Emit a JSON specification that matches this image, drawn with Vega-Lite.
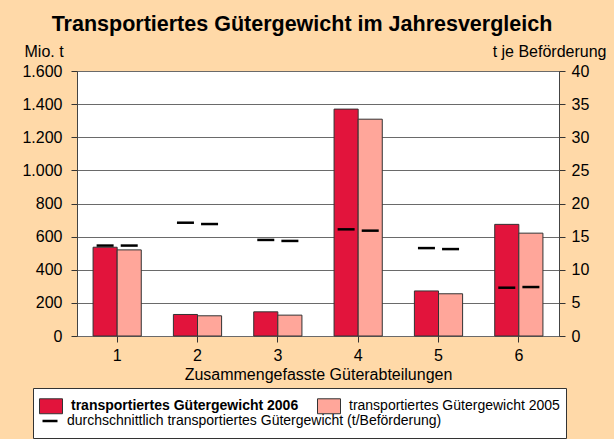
{
  "$schema": "https://vega.github.io/schema/vega-lite/v6.json",
  "width": 482,
  "height": 265,
  "autosize": {"type": "none"},
  "padding": {"left": 77, "top": 71, "right": 55, "bottom": 103},
  "background": "#FFD9A8",
  "title": {
    "text": "Transportiertes Gütergewicht im Jahresvergleich",
    "font": "Liberation Sans",
    "fontSize": 21.5,
    "fontWeight": "bold",
    "color": "#000000",
    "dx": -16,
    "offset": 8
  },
  "data": {
    "values": [
      {"gruppe": "1", "jahr": "transportiertes Gütergewicht 2006", "gewicht": 536, "avg": 13.65},
      {"gruppe": "1", "jahr": "transportiertes Gütergewicht 2005", "gewicht": 520, "avg": 13.65},
      {"gruppe": "2", "jahr": "transportiertes Gütergewicht 2006", "gewicht": 130, "avg": 17.1},
      {"gruppe": "2", "jahr": "transportiertes Gütergewicht 2005", "gewicht": 122, "avg": 16.9},
      {"gruppe": "3", "jahr": "transportiertes Gütergewicht 2006", "gewicht": 146, "avg": 14.5},
      {"gruppe": "3", "jahr": "transportiertes Gütergewicht 2005", "gewicht": 126, "avg": 14.35},
      {"gruppe": "4", "jahr": "transportiertes Gütergewicht 2006", "gewicht": 1370, "avg": 16.1},
      {"gruppe": "4", "jahr": "transportiertes Gütergewicht 2005", "gewicht": 1309, "avg": 15.9},
      {"gruppe": "5", "jahr": "transportiertes Gütergewicht 2006", "gewicht": 272, "avg": 13.27},
      {"gruppe": "5", "jahr": "transportiertes Gütergewicht 2005", "gewicht": 255, "avg": 13.12},
      {"gruppe": "6", "jahr": "transportiertes Gütergewicht 2006", "gewicht": 674, "avg": 7.29},
      {"gruppe": "6", "jahr": "transportiertes Gütergewicht 2005", "gewicht": 621, "avg": 7.39}
    ]
  },
  "encoding": {
    "x": {
      "field": "gruppe",
      "type": "nominal",
      "scale": {"paddingInner": 0.4, "paddingOuter": 0.2},
      "axis": {
        "title": "Zusammengefasste Güterabteilungen",
        "titleFont": "Liberation Sans",
        "titleFontSize": 16,
        "titleFontWeight": "normal",
        "titleColor": "#000000",
        "titlePadding": 3,
        "labelAngle": 0,
        "labelFont": "Liberation Sans",
        "labelFontSize": 16,
        "labelColor": "#000000",
        "labelPadding": 5,
        "tickSize": 6,
        "tickColor": "#333333",
        "domain": false
      }
    }
  },
  "layer": [
    {
      "mark": {"type": "bar", "stroke": "#333333", "strokeWidth": 1},
      "encoding": {
        "xOffset": {"field": "jahr", "type": "nominal", "sort": ["transportiertes Gütergewicht 2006", "transportiertes Gütergewicht 2005"], "scale": {"paddingInner": 0, "paddingOuter": 0}},
        "y": {
          "field": "gewicht",
          "type": "quantitative",
          "scale": {"domain": [0, 1600], "nice": false},
          "axis": {
            "title": "Mio. t",
            "titleAngle": 0,
            "titleAlign": "left",
            "titleBaseline": "alphabetic",
            "titleX": -53,
            "titleY": -15,
            "titleFont": "Liberation Sans",
            "titleFontSize": 16,
            "titleFontWeight": "normal",
            "titleColor": "#000000",
            "values": [0, 200, 400, 600, 800, 1000, 1200, 1400, 1600],
            "labelExpr": "replace(format(datum.value, ','), ',', '.')",
            "labelFont": "Liberation Sans",
            "labelFontSize": 16,
            "labelColor": "#000000",
            "labelPadding": 9,
            "tickSize": 6,
            "tickColor": "#333333",
            "domain": false,
            "grid": true,
            "gridColor": "#6a6a6a",
            "gridWidth": 1
          }
        },
        "fill": {
          "field": "jahr",
          "type": "nominal",
          "scale": {
            "domain": ["transportiertes Gütergewicht 2006", "transportiertes Gütergewicht 2005"],
            "range": ["#E2143C", "#FFA69A"]
          },
          "legend": {
            "orient": "none",
            "legendX": -44,
            "legendY": 317,
            "direction": "horizontal",
            "zindex": 0,
            "title": " ",
            "titleOrient": "bottom",
            "titleFontSize": 13,
            "titlePadding": 3,
            "fillColor": "#FFFFFF",
            "strokeColor": "#333333",
            "padding": 6,
            "columnPadding": 16,
            "labelFont": "Liberation Sans",
            "labelFontSize": 14,
            "labelFontWeight": {"expr": "datum.value == 'transportiertes Gütergewicht 2006' ? 'bold' : 'normal'"},
            "labelColor": "#000000",
            "labelLimit": 0,
            "labelOffset": 8,
            "symbolType": "M-1,-0.65H1V0.65H-1Z",
            "symbolSize": 529,
            "symbolOpacity": 1,
            "symbolStrokeColor": "#333333",
            "symbolStrokeWidth": 1
          }
        }
      }
    },
    {
      "mark": {"type": "tick", "thickness": 2.5, "size": 17, "opacity": 1},
      "encoding": {
        "xOffset": {"field": "jahr", "type": "nominal", "sort": ["transportiertes Gütergewicht 2006", "transportiertes Gütergewicht 2005"]},
        "y": {
          "field": "avg",
          "type": "quantitative",
          "scale": {"domain": [0, 40], "nice": false},
          "axis": {
            "orient": "right",
            "title": "t je Beförderung",
            "titleAngle": 0,
            "titleAlign": "right",
            "titleBaseline": "alphabetic",
            "titleX": 47,
            "titleY": -15,
            "titleFont": "Liberation Sans",
            "titleFontSize": 16,
            "titleFontWeight": "normal",
            "titleColor": "#000000",
            "values": [0, 5, 10, 15, 20, 25, 30, 35, 40],
            "labelFont": "Liberation Sans",
            "labelFontSize": 16,
            "labelColor": "#000000",
            "labelPadding": 6,
            "tickSize": 6,
            "tickColor": "#333333",
            "domain": false,
            "grid": false
          }
        },
        "color": {
          "datum": "durchschnittlich transportiertes Gütergewicht (t/Beförderung)",
          "scale": {"range": ["#000000"]},
          "legend": {
            "orient": "none",
            "legendX": -36,
            "legendY": 341,
            "zindex": 1,
            "title": null,
            "padding": 0,
            "labelFont": "Liberation Sans",
            "labelFontSize": 14,
            "labelColor": "#000000",
            "labelLimit": 0,
            "labelOffset": 8,
            "symbolType": "stroke",
            "symbolSize": 225,
            "symbolOpacity": 1,
            "encode": {
              "symbols": {
                "update": {
                  "stroke": {"value": "#000000"},
                  "strokeWidth": {"value": 2.5}
                }
              }
            }
          }
        }
      }
    }
  ],
  "resolve": {"scale": {"y": "independent"}},
  "config": {
    "font": "Liberation Sans",
    "view": {"stroke": "#444444", "fill": "#FFFFFF"}
  }
}
